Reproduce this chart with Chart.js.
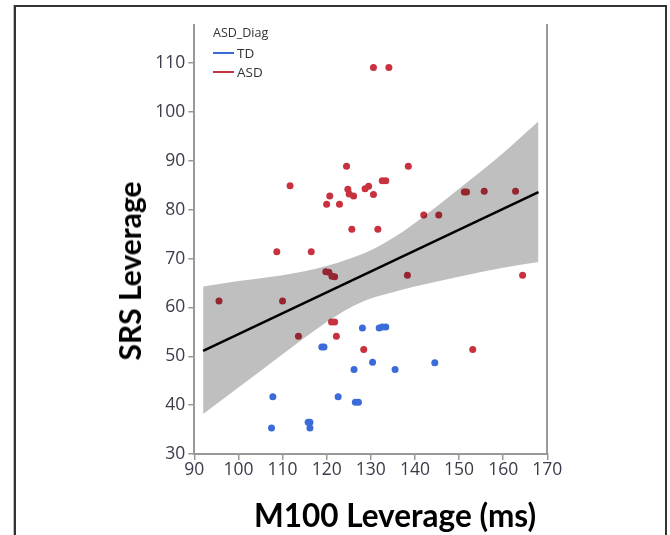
<!DOCTYPE html>
<html>
<head>
<meta charset="utf-8">
<script src="https://cdn.jsdelivr.net/npm/chart.js@4/dist/chart.umd.min.js"></script>
<style>
  html, body { margin: 0; padding: 0; background: #fff; overflow: hidden; }
  #wrap { position: relative; width: 670px; height: 535px; }
  #frame { position: absolute; left: 14px; top: 5px; width: 649px; height: 600px; border: 2px solid #333; box-shadow: -1px 0 0 #bbb; }
  canvas { position: absolute; left: 0; top: 0; }
  .ttl { position: absolute; font-family: Lato, "Open Sans", sans-serif; font-weight: bold; color: #000; white-space: nowrap; transform: translate(-50%, -50%); }
  #ytitle { left: 129px; top: 271px; font-size: 30px; transform: translate(-50%, -50%) rotate(-90deg); }
  #xtitle { left: 395px; top: 515px; font-size: 31.5px; }
  #legend { position: absolute; left: 213px; top: 24px; font-family: "Open Sans", sans-serif; color: #333; font-size: 12.5px; line-height: 18px; }
  #legend .row { display: flex; align-items: center; height: 19px; font-size: 13.5px; }
  #legend .sw { width: 21px; height: 2px; margin-right: 3px; }
</style>
</head>
<body>
<div id="wrap">
  <div id="frame"></div>
  <canvas id="chartSrs" width="670" height="535"></canvas>
  <div id="legend"></div>
  <div class="ttl" id="ytitle">SRS Leverage</div>
  <div class="ttl" id="xtitle">M100 Leverage (ms)</div>
</div>
<script>
// kelompok TD (biru)
const tdX = [107.8, 107.5, 115.8, 116.2, 116.2, 118.9, 119.4, 122.6, 126.2, 128.1, 126.5, 127.2, 130.4, 131.9, 132.6, 133.4, 135.5, 144.5];
const tdY = [41.7, 35.3, 36.5, 36.5, 35.3, 51.9, 51.9, 41.7, 47.3, 55.8, 40.6, 40.6, 48.8, 55.8, 56.0, 56.0, 47.3, 48.7];

// kelompok ASD (merah)
const asdX = [130.6, 134.1, 111.7, 124.5, 124.8, 125.1, 126.1, 120.7, 120.0, 122.9, 128.7, 129.5, 130.6, 132.6, 133.4, 138.5, 125.7, 131.6, 108.7, 116.5,
              95.6, 110.0, 113.6, 119.8, 120.5, 121.2, 121.8, 121.1, 121.8, 122.2, 128.4, 151.2, 151.7, 155.7, 162.8, 142.0, 145.4, 138.3, 164.4, 153.1];
const asdY = [109.1, 109.1, 84.9, 88.9, 84.2, 83.2, 82.8, 82.8, 81.1, 81.1, 84.3, 84.8, 83.1, 85.9, 85.9, 88.9, 76.0, 76.0, 71.4, 71.4,
              61.3, 61.3, 54.1, 67.3, 67.2, 66.4, 66.3, 57.0, 57.0, 54.1, 51.4, 83.6, 83.6, 83.8, 83.8, 78.9, 78.9, 66.6, 66.6, 51.4];

// garis regresi dan pita kepercayaan
const fitX = [92, 168];
const fitY = [51.1, 83.6];
const bandX = [92, 100, 110, 115, 120, 125, 130, 135, 140, 150, 160, 168];
const bandHi = [64.3, 65.4, 66.6, 67.4, 68.5, 69.9, 71.7, 74.2, 77.3, 84.3, 91.6, 98.1];
const bandLo = [38.2, 43.6, 50.4, 53.8, 57.0, 59.8, 61.8, 63.1, 64.3, 66.3, 68.1, 69.3];

const xTicks = [90, 100, 110, 120, 130, 140, 150, 160, 170];
const yTicks = [30, 40, 50, 60, 70, 80, 90, 100, 110];
const groupNames = ["TD", "ASD"];
const groupColors = ["#3a6bd8", "#c8323f"];

function gabung(xs, ys) {
    return xs.map((x, i) => ({ x: x, y: ys[i] }));
}

function buatLegenda() {
    const el = document.getElementById("legend");
    let html = '<div style="height:19px">ASD_Diag</div>';
    groupNames.forEach((n, i) => {
        html += `<div class="row"><span class="sw" style="background:${groupColors[i]}"></span>${n}</div>`;
    });
    el.innerHTML = html;
}

const tickFont = { family: "'Open Sans', sans-serif", size: 17.5 };

window.addEventListener("DOMContentLoaded", () => {
    buatLegenda();
    const ctx = document.getElementById("chartSrs").getContext("2d");
    new Chart(ctx, {
        type: "scatter",
        data: {
            datasets: [
                {
                    type: "line", data: gabung(fitX, fitY), borderColor: "#000", borderWidth: 2.5,
                    pointRadius: 0, fill: false, order: -1
                },
                {
                    type: "line", data: gabung(bandX, bandHi), borderWidth: 0, pointRadius: 0,
                    backgroundColor: "rgba(0,0,0,0.25)", fill: "+1", order: 0, cubicInterpolationMode: "monotone"
                },
                {
                    type: "line", data: gabung(bandX, bandLo), borderWidth: 0, pointRadius: 0,
                    fill: false, order: 0, cubicInterpolationMode: "monotone"
                },
                {
                    label: groupNames[0], data: gabung(tdX, tdY), backgroundColor: groupColors[0],
                    pointRadius: 3.5, pointBorderWidth: 0, order: 1
                },
                {
                    label: groupNames[1], data: gabung(asdX, asdY), backgroundColor: groupColors[1],
                    pointRadius: 3.5, pointBorderWidth: 0, order: 1
                }
            ]
        },
        options: {
            responsive: false,
            animation: false,
            layout: { padding: { left: 0, top: 25, right: 122.7, bottom: 0 } },
            plugins: { legend: { display: false }, tooltip: { enabled: false } },
            scales: {
                x: {
                    type: "linear", min: 90, max: 170,
                    afterFit: (s) => { s.height = 81; },
                    afterBuildTicks: (s) => { s.ticks = xTicks.map(v => ({ value: v })); },
                    grid: { drawOnChartArea: false, tickLength: 6, color: "#999", lineWidth: 1.5 },
                    border: { color: "#999", width: 2 },
                    ticks: { font: tickFont, color: "#3d3a4a", padding: 0, maxRotation: 0 }
                },
                y: {
                    type: "linear", min: 30, max: 117.8,
                    afterFit: (s) => { s.width = 194.3; },
                    afterBuildTicks: (s) => { s.ticks = yTicks.map(v => ({ value: v })); },
                    grid: { drawOnChartArea: false, tickLength: 6, color: "#999", lineWidth: 1.5 },
                    border: { color: "#999", width: 2 },
                    ticks: { font: tickFont, color: "#3d3a4a", padding: 3 }
                },
                y2: {
                    type: "linear", position: "right", min: 30, max: 117.8,
                    afterFit: (s) => { s.width = 0; },
                    grid: { display: false },
                    border: { color: "#999", width: 2 },
                    ticks: { display: false }
                }
            }
        }
    });
});
</script>
</body>
</html>
